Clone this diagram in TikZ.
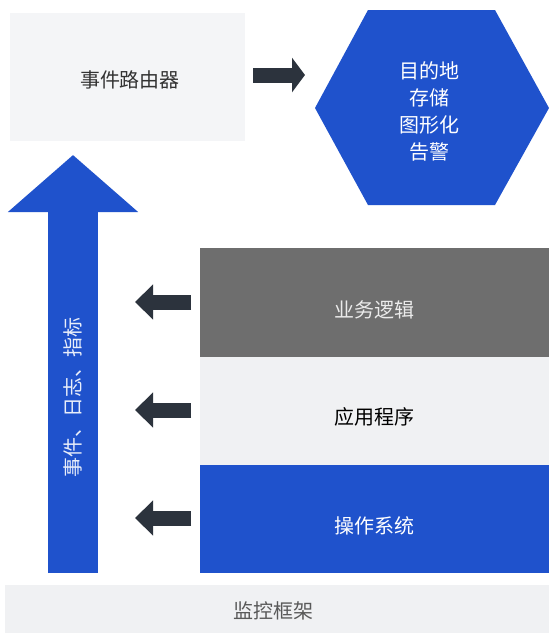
\documentclass[tikz,border=0pt]{standalone}
\usepackage{fontspec}
\newfontfamily\cjk{Noto Sans CJK SC}
\usetikzlibrary{arrows.meta}
\definecolor{myblue}{HTML}{1F52CC}
\definecolor{mydark}{HTML}{2C333D}
\definecolor{mygray}{HTML}{6E6E6E}
\definecolor{mylight}{HTML}{F0F1F3}
\definecolor{myfaint}{HTML}{F4F5F7}
\begin{document}
\begin{tikzpicture}[x=1pt,y=-1pt,
  txt/.style={font=\cjk\fontsize{20}{27}\selectfont, inner sep=0pt, align=center},
  box/.style={minimum width=349pt, minimum height=108pt, inner sep=0pt},
  smallarrow/.style={mydark, line width=15pt, -{Triangle[width=34pt,length=18pt]}},
  bigarrow/.style={myblue, line width=50pt, -{Triangle[width=127pt,length=57pt]}}]
\useasboundingbox (0,0) rectangle (549,633);
\fill[white] (0,0) rectangle (549,633);

% event router
\node[fill=myfaint, minimum width=235pt, minimum height=128pt, inner sep=0pt] (router) at (127.5,76.5) {};
\node[txt, text=black!80] (routert) at (130,80) {事件路由器};

% hexagon
\fill[myblue] (315,108) -- (368,10) -- (495,10) -- (549,108) -- (495,205) -- (368,205) -- cycle;
\node[txt, text=white] (hex) at (429,111) {目的地\\存储\\图形化\\告警};

% arrow router -> hexagon
\coordinate (r1) at (253,75);
\coordinate (r2) at (305,75);
\draw[mydark, line width=15pt, -{Triangle[width=34pt,length=13pt]}] (r1) -- (r2);

% layers
\node[box, fill=mygray, minimum height=109pt] (biz) at (374.5,302.5) {};
\node[box, fill=mylight] (app) at (374.5,411) {};
\node[box, fill=myblue] (os) at (374.5,519) {};
\node[txt, text=white!92!black] (bizt) at (374.5,310) {业务逻辑};
\node[txt, text=black] (appt) at (374.5,417) {应用程序};
\node[txt, text=white] (ost) at (374.5,526) {操作系统};

% big up arrow
\coordinate (up1) at (73,573);
\coordinate (up2) at (73,155);
\draw[bigarrow] (up1) -- (up2);
\node[txt, text=white!90!myblue, rotate=90] (data) at (73,397) {事件、日志、指标};

% small arrows
\coordinate (b1) at (191,302);
\coordinate (b2) at (135,302);
\coordinate (a1) at (191,410);
\coordinate (a2) at (135,410);
\coordinate (o1) at (191,518);
\coordinate (o2) at (135,518);
\draw[smallarrow] (b1) -- (b2);
\draw[smallarrow] (a1) -- (a2);
\draw[smallarrow] (o1) -- (o2);

% monitoring framework
\node[fill=mylight, minimum width=544pt, minimum height=48pt, inner sep=0pt] (frame) at (277,609) {};
\node[txt, text=black!65] (framet) at (273,611) {监控框架};
\end{tikzpicture}
\end{document}
